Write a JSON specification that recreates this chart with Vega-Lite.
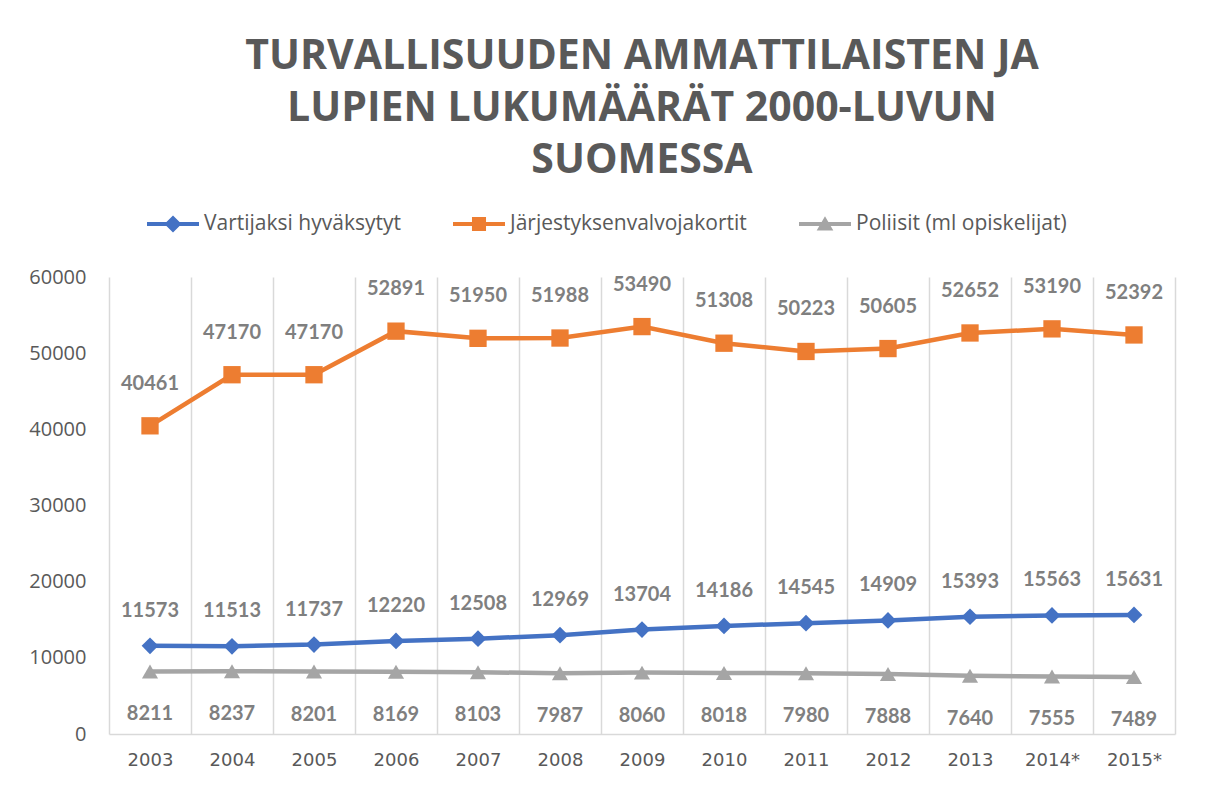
{
  "$schema": "https://vega.github.io/schema/vega-lite/v6.json",
  "width": 1066,
  "height": 457,
  "autosize": {"type": "none"},
  "padding": {"left": 109, "top": 277, "right": 31, "bottom": 53},
  "background": "white",
  "title": {
    "text": ["TURVALLISUUDEN AMMATTILAISTEN JA", "LUPIEN LUKUMÄÄRÄT 2000-LUVUN", "SUOMESSA"],
    "font": "Open Sans",
    "fontWeight": "bold",
    "fontSize": 41,
    "color": "#595959",
    "lineHeight": 52,
    "anchor": "middle",
    "offset": 16
  },
  "datasets": {
    "main": [
      {"year": "2003", "series": "Vartijaksi hyväksytyt", "value": 11573},
      {"year": "2004", "series": "Vartijaksi hyväksytyt", "value": 11513},
      {"year": "2005", "series": "Vartijaksi hyväksytyt", "value": 11737},
      {"year": "2006", "series": "Vartijaksi hyväksytyt", "value": 12220},
      {"year": "2007", "series": "Vartijaksi hyväksytyt", "value": 12508},
      {"year": "2008", "series": "Vartijaksi hyväksytyt", "value": 12969},
      {"year": "2009", "series": "Vartijaksi hyväksytyt", "value": 13704},
      {"year": "2010", "series": "Vartijaksi hyväksytyt", "value": 14186},
      {"year": "2011", "series": "Vartijaksi hyväksytyt", "value": 14545},
      {"year": "2012", "series": "Vartijaksi hyväksytyt", "value": 14909},
      {"year": "2013", "series": "Vartijaksi hyväksytyt", "value": 15393},
      {"year": "2014*", "series": "Vartijaksi hyväksytyt", "value": 15563},
      {"year": "2015*", "series": "Vartijaksi hyväksytyt", "value": 15631},
      {"year": "2003", "series": "Järjestyksenvalvojakortit", "value": 40461},
      {"year": "2004", "series": "Järjestyksenvalvojakortit", "value": 47170},
      {"year": "2005", "series": "Järjestyksenvalvojakortit", "value": 47170},
      {"year": "2006", "series": "Järjestyksenvalvojakortit", "value": 52891},
      {"year": "2007", "series": "Järjestyksenvalvojakortit", "value": 51950},
      {"year": "2008", "series": "Järjestyksenvalvojakortit", "value": 51988},
      {"year": "2009", "series": "Järjestyksenvalvojakortit", "value": 53490},
      {"year": "2010", "series": "Järjestyksenvalvojakortit", "value": 51308},
      {"year": "2011", "series": "Järjestyksenvalvojakortit", "value": 50223},
      {"year": "2012", "series": "Järjestyksenvalvojakortit", "value": 50605},
      {"year": "2013", "series": "Järjestyksenvalvojakortit", "value": 52652},
      {"year": "2014*", "series": "Järjestyksenvalvojakortit", "value": 53190},
      {"year": "2015*", "series": "Järjestyksenvalvojakortit", "value": 52392},
      {"year": "2003", "series": "Poliisit (ml opiskelijat)", "value": 8211},
      {"year": "2004", "series": "Poliisit (ml opiskelijat)", "value": 8237},
      {"year": "2005", "series": "Poliisit (ml opiskelijat)", "value": 8201},
      {"year": "2006", "series": "Poliisit (ml opiskelijat)", "value": 8169},
      {"year": "2007", "series": "Poliisit (ml opiskelijat)", "value": 8103},
      {"year": "2008", "series": "Poliisit (ml opiskelijat)", "value": 7987},
      {"year": "2009", "series": "Poliisit (ml opiskelijat)", "value": 8060},
      {"year": "2010", "series": "Poliisit (ml opiskelijat)", "value": 8018},
      {"year": "2011", "series": "Poliisit (ml opiskelijat)", "value": 7980},
      {"year": "2012", "series": "Poliisit (ml opiskelijat)", "value": 7888},
      {"year": "2013", "series": "Poliisit (ml opiskelijat)", "value": 7640},
      {"year": "2014*", "series": "Poliisit (ml opiskelijat)", "value": 7555},
      {"year": "2015*", "series": "Poliisit (ml opiskelijat)", "value": 7489}
    ]
  },
  "data": {"name": "main"},
  "encoding": {
    "x": {
      "field": "year",
      "type": "ordinal",
      "sort": null,
      "scale": {"type": "band", "paddingInner": 0, "paddingOuter": 0},
      "axis": {
        "title": null,
        "grid": true,
        "gridColor": "#d9d9d9",
        "gridWidth": 1.5,
        "tickBand": "extent",
        "ticks": false,
        "domainColor": "#d9d9d9",
        "domainWidth": 1.5,
        "labelFont": "DejaVu Sans",
        "labelFontSize": 18,
        "labelColor": "#595959",
        "labelPadding": 17,
        "labelAngle": 0
      }
    },
    "y": {
      "field": "value",
      "type": "quantitative",
      "scale": {"domain": [0, 60000]},
      "axis": {
        "title": null,
        "grid": false,
        "domain": false,
        "ticks": false,
        "values": [0, 10000, 20000, 30000, 40000, 50000, 60000],
        "format": "d",
        "labelFont": "Open Sans",
        "labelFontSize": 20,
        "labelColor": "#595959",
        "labelPadding": 23
      }
    },
    "color": {
      "field": "series",
      "type": "nominal",
      "sort": null,
      "scale": {
        "domain": ["Vartijaksi hyväksytyt", "Järjestyksenvalvojakortit", "Poliisit (ml opiskelijat)"],
        "range": ["#4472C4", "#ED7D31", "#A5A5A5"]
      },
      "legend": {
        "orient": "none",
        "legendX": 38,
        "legendY": -79,
        "direction": "horizontal",
        "title": null,
        "labelFont": "Open Sans",
        "labelFontSize": 21,
        "labelColor": "#595959",
        "labelOffset": 5,
        "labelLimit": 500,
        "columnPadding": 52,
        "symbolSize": 2704,
        "symbolStrokeWidth": 0,
        "encode": {"symbols": {"update": {"opacity": {"value": 1}, "size": {"value": 2704}}}}
      }
    }
  },
  "layer": [
    {
      "mark": {"type": "line", "strokeWidth": 4.5}
    },
    {
      "transform": [{"filter": "datum.series === 'Vartijaksi hyväksytyt'"}],
      "mark": {"type": "point", "filled": true, "opacity": 1, "size": 280, "shape": "diamond"}
    },
    {
      "transform": [{"filter": "datum.series === 'Järjestyksenvalvojakortit'"}],
      "mark": {"type": "point", "filled": true, "opacity": 1, "size": 300, "shape": "square"}
    },
    {
      "transform": [{"filter": "datum.series === 'Poliisit (ml opiskelijat)'"}],
      "mark": {"type": "point", "filled": true, "opacity": 1, "size": 260, "shape": "triangle-up"}
    },
    {
      "mark": {"type": "point", "filled": true, "opacity": 0},
      "encoding": {
        "shape": {
          "field": "series",
          "type": "nominal",
          "sort": null,
          "scale": {
            "domain": ["Vartijaksi hyväksytyt", "Järjestyksenvalvojakortit", "Poliisit (ml opiskelijat)"],
            "range": [
              "M-1,-0.08H1V0.08H-1Z M0,-0.33L0.33,0L0,0.33L-0.33,0Z",
              "M-1,-0.08H1V0.08H-1Z M-0.27,-0.27H0.27V0.27H-0.27Z",
              "M-1,-0.08H1V0.08H-1Z M0,-0.3L0.32,0.25L-0.32,0.25Z"
            ]
          },
          "legend": {
            "orient": "none",
            "legendX": 38,
            "legendY": -79,
            "direction": "horizontal",
            "title": null,
            "labelFont": "Open Sans",
            "labelFontSize": 21,
            "labelColor": "#595959",
            "labelOffset": 5,
            "labelLimit": 500,
            "columnPadding": 52,
            "symbolSize": 2704,
            "symbolStrokeWidth": 0,
            "encode": {"symbols": {"update": {"opacity": {"value": 1}, "size": {"value": 2704}}}}
          }
        }
      }
    },
    {
      "transform": [{"filter": "datum.series === 'Vartijaksi hyväksytyt'"}],
      "mark": {"type": "text", "dy": -35, "font": "Lato", "fontWeight": "bold", "fontSize": 20},
      "encoding": {"text": {"field": "value", "type": "quantitative", "format": "d"}, "color": {"value": "#7f7f7f"}}
    },
    {
      "transform": [{"filter": "datum.series === 'Järjestyksenvalvojakortit'"}],
      "mark": {"type": "text", "dy": -42, "font": "Lato", "fontWeight": "bold", "fontSize": 20},
      "encoding": {"text": {"field": "value", "type": "quantitative", "format": "d"}, "color": {"value": "#7f7f7f"}}
    },
    {
      "transform": [{"filter": "datum.series === 'Poliisit (ml opiskelijat)'"}],
      "mark": {"type": "text", "dy": 43, "font": "Lato", "fontWeight": "bold", "fontSize": 20},
      "encoding": {"text": {"field": "value", "type": "quantitative", "format": "d"}, "color": {"value": "#7f7f7f"}}
    }
  ],
  "config": {"view": {"stroke": null}}
}
